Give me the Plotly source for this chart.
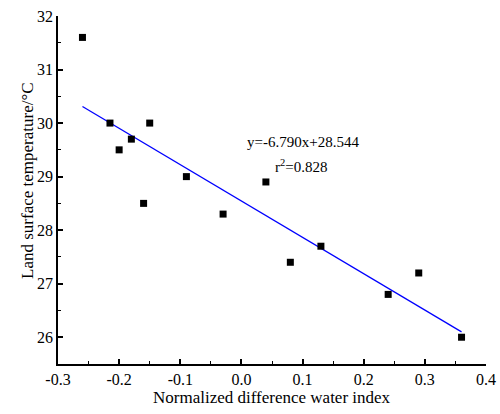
import plotly.graph_objects as go

# ── Data ──────────────────────────────────────────────────────────────────────
ndwi = [-0.26, -0.215, -0.20, -0.18, -0.16, -0.15, -0.09, -0.03, 0.04, 0.08, 0.13, 0.24, 0.29, 0.36]
lst = [31.6, 30.0, 29.5, 29.7, 28.5, 30.0, 29.0, 28.3, 28.9, 27.4, 27.7, 26.8, 27.2, 26.0]

slope = -6.790
intercept = 28.544
r2 = 0.828

FONT = "Liberation Serif, Times New Roman, serif"

fit_x = [min(ndwi), max(ndwi)]
fit_y = [slope * x + intercept for x in fit_x]

fig = go.Figure()
fig.add_trace(go.Scatter(
    x=fit_x, y=fit_y, mode="lines",
    line=dict(color="#0000FF", width=1.3),
    showlegend=False,
))
fig.add_trace(go.Scatter(
    x=ndwi, y=lst, mode="markers",
    marker=dict(symbol="square", size=7, color="black"),
    showlegend=False,
))

fig.add_annotation(
    x=0.1, y=29.64, xref="x", yref="y",
    text=f"y={slope:.3f}x+{intercept:.3f}",
    showarrow=False, font=dict(family=FONT, size=15, color="black"),
)
fig.add_annotation(
    x=0.097, y=29.2, xref="x", yref="y",
    text=f"r<sup>2</sup>={r2:.3f}",
    showarrow=False, font=dict(family=FONT, size=15, color="black"),
)

# axis titles as annotations for exact placement
fig.add_annotation(
    x=0.5, y=-0.095, xref="paper", yref="paper",
    text="Normalized difference water index",
    showarrow=False, yanchor="middle",
    font=dict(family=FONT, size=17, color="black"),
)
fig.add_annotation(
    x=-0.07, y=0.526, xref="paper", yref="paper",
    text="Land surface temperature/°C", textangle=-90,
    showarrow=False, xanchor="center", yanchor="middle",
    font=dict(family=FONT, size=17, color="black"),
)

axis_common = dict(
    showline=True, linecolor="black", linewidth=1.8,
    ticks="inside", ticklen=5, tickwidth=1.5, tickcolor="black",
    showgrid=False, zeroline=False, mirror=False, automargin=False,
    tickfont=dict(family=FONT, size=16, color="black"),
)

fig.update_xaxes(
    **axis_common,
    range=[-0.3, 0.4], tickvals=[-0.3, -0.2, -0.1, 0.0, 0.1, 0.2, 0.3, 0.4],
    ticktext=["-0.3", "-0.2", "-0.1", "0.0", "0.1", "0.2", "0.3", "0.4"],
    minor=dict(dtick=0.05, ticks="inside", ticklen=3, tickwidth=1.2, tickcolor="black"),
)
fig.update_yaxes(
    **axis_common,
    range=[25.5, 32], tickvals=[26, 27, 28, 29, 30, 31, 32],
    minor=dict(dtick=0.5, ticks="inside", ticklen=3, tickwidth=1.2, tickcolor="black"),
)

fig.update_layout(
    width=500, height=414,
    plot_bgcolor="white", paper_bgcolor="white",
    margin=dict(l=58, r=14, t=16, b=50),
    font=dict(family=FONT, color="black"),
)

# drop the browser's default body margin so the figure sits at the page corner
fig.write_html(
    "out.html",
    config={"displayModeBar": False},
    post_script="document.body.style.margin='0px';",
)
